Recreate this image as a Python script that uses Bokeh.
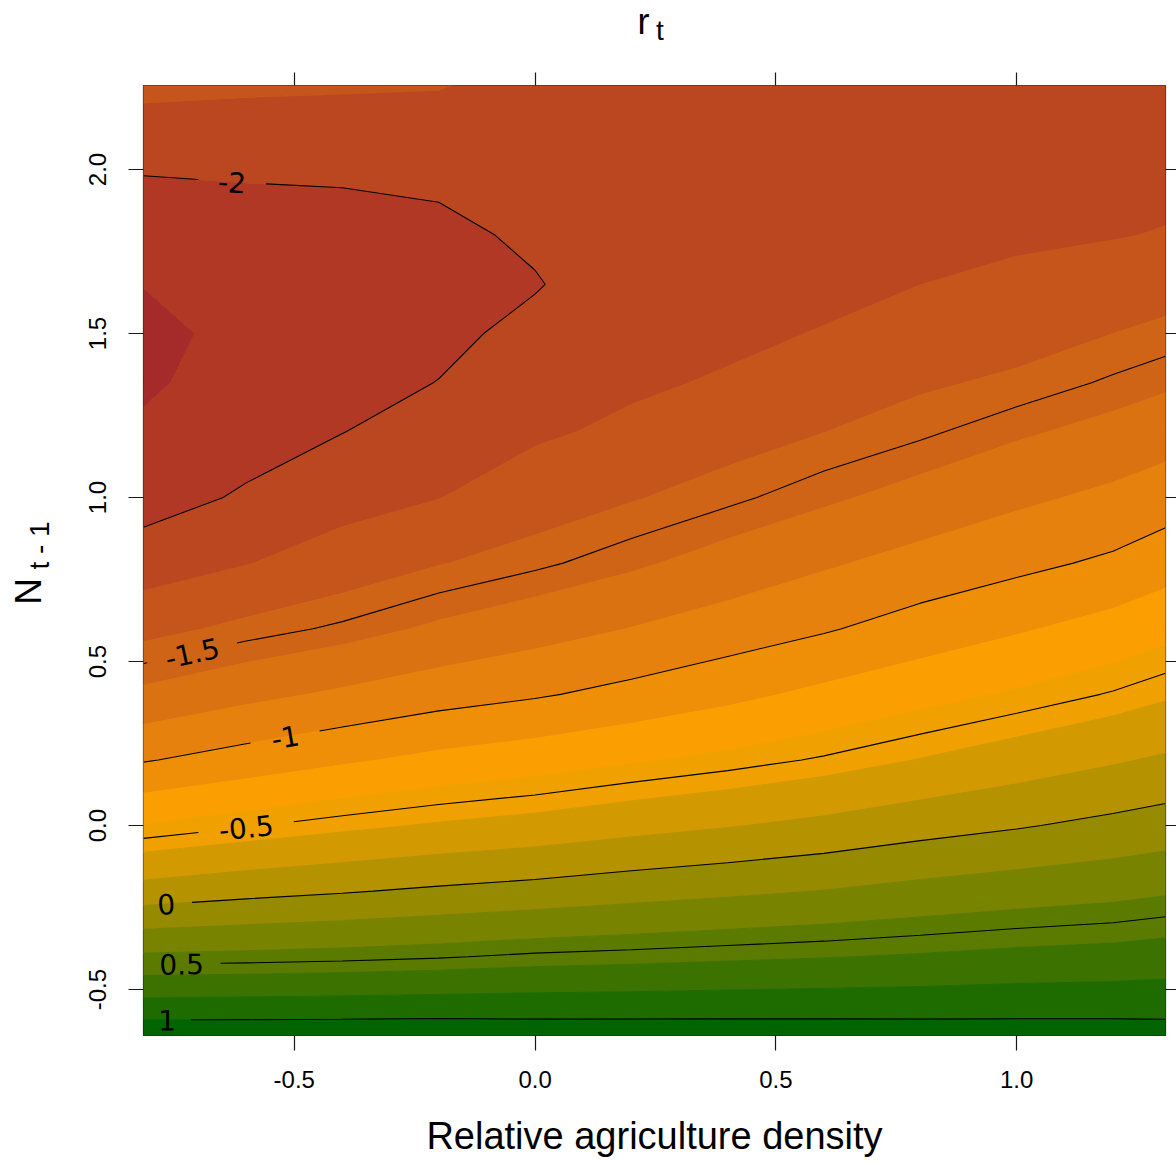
import math

import numpy as np
from contourpy import contour_generator

from bokeh.core.properties import value
from bokeh.embed import file_html
from bokeh.layouts import column, row
from bokeh.models import (ColumnDataSource, FixedTicker, LinearAxis,
                          PrintfTickFormatter, Range1d)
from bokeh.plotting import figure
from bokeh.resources import INLINE

# ---- data -----------------------------------------------------------------
# Relative agriculture density (x) and N_{t-1} (y) grid nodes
agri = [-0.813, -0.6, -0.4, -0.2, 0.0, 0.2, 0.4, 0.6, 0.8, 1.0, 1.2, 1.309]
n_prev = [-0.64, -0.4, -0.2, 0.0, 0.2, 0.4, 0.6, 0.8, 1.0, 1.2, 1.35, 1.5,
          1.65, 1.8, 2.0, 2.256]

# predicted r_t, one row per N_{t-1} node (bottom to top)
r_t = [
    [1.140, 1.140, 1.140, 1.140, 1.125, 1.120, 1.115, 1.110, 1.100, 1.095, 1.090, 1.080],
    [0.431, 0.446, 0.464, 0.489, 0.525, 0.545, 0.570, 0.592, 0.618, 0.648, 0.667, 0.690],
    [-0.121, -0.059, -0.015, 0.032, 0.072, 0.120, 0.162, 0.205, 0.259, 0.305, 0.345, 0.378],
    [-0.592, -0.512, -0.442, -0.381, -0.332, -0.267, -0.212, -0.151, -0.077, -0.017, 0.050, 0.088],
    [-1.014, -0.917, -0.829, -0.751, -0.692, -0.621, -0.556, -0.483, -0.393, -0.305, -0.221, -0.174],
    [-1.359, -1.253, -1.169, -1.084, -1.021, -0.942, -0.852, -0.755, -0.665, -0.579, -0.488, -0.425],
    [-1.659, -1.557, -1.475, -1.369, -1.281, -1.195, -1.108, -1.019, -0.915, -0.822, -0.727, -0.659],
    [-1.903, -1.808, -1.706, -1.609, -1.528, -1.432, -1.324, -1.225, -1.133, -1.050, -0.965, -0.887],
    [-2.080, -1.977, -1.875, -1.805, -1.696, -1.613, -1.530, -1.431, -1.334, -1.239, -1.157, -1.097],
    [-2.175, -2.080, -2.003, -1.914, -1.829, -1.762, -1.676, -1.602, -1.524, -1.427, -1.342, -1.288],
    [-2.225, -2.130, -2.050, -1.997, -1.900, -1.830, -1.780, -1.700, -1.625, -1.570, -1.480, -1.430],
    [-2.260, -2.140, -2.080, -2.035, -1.960, -1.880, -1.840, -1.790, -1.715, -1.670, -1.600, -1.560],
    [-2.195, -2.120, -2.080, -2.045, -2.010, -1.915, -1.880, -1.850, -1.801, -1.760, -1.710, -1.675],
    [-2.104, -2.070, -2.065, -2.035, -1.975, -1.930, -1.900, -1.880, -1.850, -1.830, -1.810, -1.790],
    [-1.989, -1.982, -1.975, -1.965, -1.960, -1.930, -1.910, -1.900, -1.890, -1.880, -1.870, -1.860],
    [-1.750, -1.770, -1.780, -1.790, -1.870, -1.910, -1.900, -1.900, -1.900, -1.900, -1.900, -1.900],
]

# filled bands and labelled contour lines
fill_levels = [-2.4, -2.2, -2.0, -1.8, -1.6, -1.4, -1.2, -1.0, -0.8, -0.6, -0.4,
               -0.2, 0.0, 0.2, 0.4, 0.6, 0.8, 1.0, 1.2]
line_levels = [-2.0, -1.5, -1.0, -0.5, 0.0, 0.5, 1.0]

x_ticks = [-0.5, 0.0, 0.5, 1.0]
y_ticks = [-0.5, 0.0, 0.5, 1.0, 1.5, 2.0]

# brown -> orange -> darkgreen ramp, one colour per band
band_colors = ["#A52A2A", "#B03825", "#BA4720", "#C5551B", "#CF6416", "#DA7211",
               "#E5810C", "#EF8F07", "#FA9E02", "#F0A100", "#D29A00", "#B49200",
               "#968A00", "#788300", "#5A7B00", "#3C7300", "#1E6C00", "#006400"]

# where each contour label sits along its line (x position) and the gap radius
label_at_x = {-2.0: -0.629, -1.5: -0.712, -1.0: -0.519, -0.5: -0.600,
              0.0: -0.766, 0.5: -0.734, 1.0: -0.764}
label_gap_px = {-2.0: 34, -1.5: 46, -1.0: 35, -0.5: 48, 0.0: 26, 0.5: 39, 1.0: 24}

# ---- page layout ------------------------------------------------------------
PAGE_W, PAGE_H = 1176, 1162
TOP_STRIP_H = 60          # strip holding the main title
LEFT_STRIP_W = 60         # strip holding the y title
MAIN_W, MAIN_H = PAGE_W - LEFT_STRIP_W, PAGE_H - TOP_STRIP_H
LEFT, RIGHT, TOP, BOTTOM = 83, 11, 25, 127
FW, FH = MAIN_W - LEFT - RIGHT, MAIN_H - TOP - BOTTOM
FRAME_TOP_PAGE = TOP_STRIP_H + TOP           # page y of the frame's top edge
FRAME_BOTTOM_PAGE = FRAME_TOP_PAGE + FH      # page y of the frame's bottom edge
X0, X1 = agri[0], agri[-1]
Y0, Y1 = n_prev[0], n_prev[-1]
KX, KY = FW / (X1 - X0), FH / (Y1 - Y0)

SANS = "Liberation Sans"

p = figure(width=MAIN_W, height=MAIN_H, output_backend="svg",
           toolbar_location=None,
           x_range=Range1d(X0, X1), y_range=Range1d(Y0, Y1),
           min_border_left=LEFT, min_border_right=RIGHT,
           min_border_top=TOP, min_border_bottom=BOTTOM,
           background_fill_color="white", border_fill_color="white",
           outline_line_color="#1a1a1a", outline_line_width=1.2)
p.grid.visible = False

# ---- filled contour bands -------------------------------------------------
gen = contour_generator(x=np.array(agri), y=np.array(n_prev), z=np.array(r_t))

band_xs, band_ys, band_cols = [], [], []
for lo, hi, col in zip(fill_levels[:-1], fill_levels[1:], band_colors):
    pts_list, offs_list = gen.filled(lo, hi)
    mx, my = [], []
    for pts, offs in zip(pts_list, offs_list):
        rings_x = [pts[offs[k]:offs[k + 1], 0].tolist() for k in range(len(offs) - 1)]
        rings_y = [pts[offs[k]:offs[k + 1], 1].tolist() for k in range(len(offs) - 1)]
        mx.append(rings_x)
        my.append(rings_y)
    if mx:
        band_xs.append(mx)
        band_ys.append(my)
        band_cols.append(col)

p.multi_polygons(xs="xs", ys="ys", fill_color="color", line_color="color",
                 line_width=1, source=ColumnDataSource(
                     dict(xs=band_xs, ys=band_ys, color=band_cols)))

# ---- contour lines with inline labels ------------------------------------


def cut_circle(P, c, r):
    """Split a polyline (screen px) into runs lying outside a circle."""
    runs, cur = [], []
    for i in range(len(P) - 1):
        a, b = P[i], P[i + 1]
        d = b - a
        f = a - c
        A = float(d @ d)
        if A == 0:
            continue
        B = 2 * float(f @ d)
        C = float(f @ f) - r * r
        disc = B * B - 4 * A * C
        if disc <= 0:
            if not cur:
                cur.append(a)
            cur.append(b)
            continue
        sq = math.sqrt(disc)
        t1, t2 = (-B - sq) / (2 * A), (-B + sq) / (2 * A)
        if t2 <= 0 or t1 >= 1:
            if not cur:
                cur.append(a)
            cur.append(b)
            continue
        if t1 > 0:
            if not cur:
                cur.append(a)
            cur.append(a + d * t1)
        if len(cur) >= 2:
            runs.append(cur)
        cur = []
        if t2 < 1:
            cur = [a + d * t2, b]
    if len(cur) >= 2:
        runs.append(cur)
    return runs


line_xs, line_ys = [], []
lab_x, lab_y, lab_txt, lab_ang = [], [], [], []
for lev in line_levels:
    lines = gen.lines(lev)
    lx = label_at_x[lev]
    best = None
    for ln in lines:
        for i in range(len(ln) - 1):
            (xa, ya), (xb, yb) = ln[i], ln[i + 1]
            if (xa - lx) * (xb - lx) <= 0 and xa != xb:
                t = (lx - xa) / (xb - xa)
                yc = ya + t * (yb - ya)
                if best is None or yc > best[1]:
                    ang = math.atan2((yb - ya) * KY, (xb - xa) * KX)
                    if ang > math.pi / 2:
                        ang -= math.pi
                    elif ang < -math.pi / 2:
                        ang += math.pi
                    best = (lx, yc, ang)
    c_px = np.array([(best[0] - X0) * KX, (best[1] - Y0) * KY])
    for ln in lines:
        P = np.column_stack(((ln[:, 0] - X0) * KX, (ln[:, 1] - Y0) * KY))
        for run in cut_circle(P, c_px, label_gap_px[lev]):
            run = np.array(run)
            line_xs.append((run[:, 0] / KX + X0).tolist())
            line_ys.append((run[:, 1] / KY + Y0).tolist())
    lab_x.append(best[0])
    lab_y.append(best[1])
    lab_ang.append(best[2])
    lab_txt.append(f"{lev:g}")

p.multi_line(xs=line_xs, ys=line_ys, line_color="black", line_width=1.1)
p.text(x=lab_x, y=lab_y, text=lab_txt, angle=lab_ang, text_align="center",
       text_baseline="middle", text_font=value("DejaVu Sans"),
       text_font_size="28px", text_color="black")

# ---- axes -----------------------------------------------------------------


def style_axis(ax, ticks, tick_out, show_labels):
    ax.ticker = FixedTicker(ticks=ticks)
    ax.axis_line_color = None
    ax.major_tick_in = 0
    ax.major_tick_out = tick_out
    ax.major_tick_line_color = "#1a1a1a"
    ax.major_tick_line_width = 1.2
    ax.minor_tick_line_color = None
    if show_labels:
        ax.formatter = PrintfTickFormatter(format="%.1f")
        ax.major_label_text_font = SANS
        ax.major_label_text_font_size = "24px"
        ax.major_label_text_color = "black"
    else:
        ax.major_label_overrides = {t: "" for t in ticks}
        ax.major_label_standoff = 0
        ax.major_label_text_font_size = "1px"


xax = p.xaxis[0]
style_axis(xax, x_ticks, 15, True)
xax.major_label_standoff = 20
xax.axis_label = "Relative agriculture density"
xax.axis_label_text_font = SANS
xax.axis_label_text_font_size = "38px"
xax.axis_label_text_font_style = "normal"
xax.axis_label_text_color = "black"
xax.axis_label_standoff = 24

yax = p.yaxis[0]
style_axis(yax, y_ticks, 15, True)
yax.major_label_orientation = "vertical"
yax.major_label_standoff = 22

top_ax = LinearAxis()
style_axis(top_ax, x_ticks, 13, False)
p.add_layout(top_ax, "above")

right_ax = LinearAxis()
style_axis(right_ax, y_ticks, 11, False)
p.add_layout(right_ax, "right")

# ---- title strips (r_t above, N_{t-1} at the left) -----------------------


def strip(width, height, y_span):
    s = figure(width=width, height=height, output_backend="svg",
               toolbar_location=None, x_axis_type=None, y_axis_type=None,
               x_range=Range1d(0, width), y_range=Range1d(0, y_span),
               min_border=0, outline_line_color=None,
               background_fill_color="white", border_fill_color="white")
    s.grid.visible = False
    return s


def title_text(s, x, y, txt, size, angle=0.0):
    s.text(x=[x], y=[y], text=[txt], angle=[angle], text_font=value(SANS),
           text_font_size=size, text_align="center", text_baseline="middle",
           text_color="black")


# main title: r with subscript t (y measured up from the strip's bottom)
top = strip(PAGE_W, TOP_STRIP_H, TOP_STRIP_H)
title_text(top, 643, TOP_STRIP_H - 21, "r", "36px")
title_text(top, 659.5, TOP_STRIP_H - 29.5, "t", "28px")

# y title: N with subscript t - 1, reading upwards.  Inside the row the
# strip's frame lines up with the main frame, so y runs up from its bottom.
left = strip(LEFT_STRIP_W, MAIN_H, FH)
title_text(left, 27.5, FRAME_BOTTOM_PAGE - 591, "N", "37px", math.pi / 2)
title_text(left, 38.5, FRAME_BOTTOM_PAGE - 545, "t - 1", "28px", math.pi / 2)

page = column(top, row(left, p, spacing=0), spacing=0)

open("out.html", "w").write(file_html(page, INLINE))
